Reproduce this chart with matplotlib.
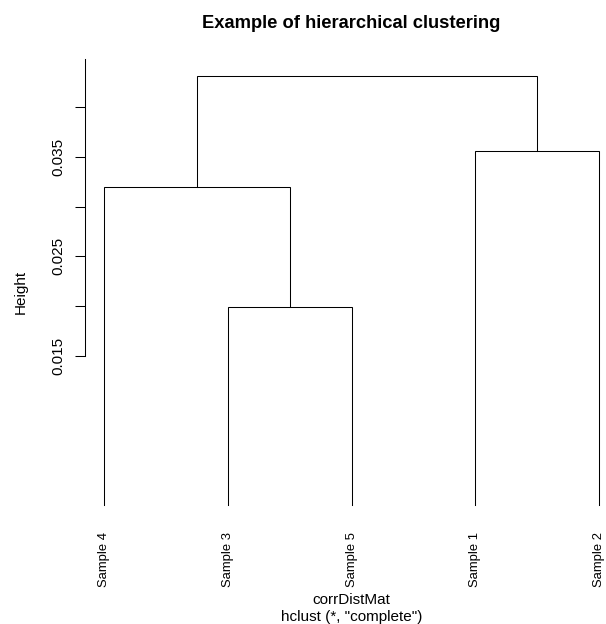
import matplotlib
matplotlib.use("Agg")
import matplotlib.pyplot as plt
import matplotlib.transforms as mtransforms

plt.rcParams["font.family"] = ["Liberation Sans", "DejaVu Sans"]

# leaves in the order they are drawn, left to right
LEAF_LABELS = ["Sample 4", "Sample 3", "Sample 5", "Sample 1", "Sample 2"]

# hclust style merge table: negative = leaf (1-based in LEAF_LABELS),
# positive = earlier merge step (1-based)
MERGE = [(-2, -3), (-1, 1), (-4, -5), (2, 3)]
HEIGHTS = [0.0199, 0.0320, 0.0356, 0.0431]

Y_TICKS = [0.015, 0.020, 0.025, 0.030, 0.035, 0.040]
Y_TICK_LABELS = ["0.015", "", "0.025", "", "0.035", ""]

W, H = 606, 624
DPI = 100
LW = 0.75


def node_pos(ref, xs):
    """x position and height of a leaf or a merged cluster"""
    if ref < 0:
        return -ref, 0.0
    return xs[ref - 1], HEIGHTS[ref - 1]


def draw_tree(ax):
    xs = []
    for (a, b), h in zip(MERGE, HEIGHTS):
        xa, ha = node_pos(a, xs)
        xb, hb = node_pos(b, xs)
        ax.plot([xa, xa, xb, xb], [ha, h, h, hb], color="black",
                lw=LW, solid_joinstyle="miter", clip_on=False)
        xs.append((xa + xb) / 2)


fig = plt.figure(figsize=(W / DPI, H / DPI), dpi=DPI)
left, right = 84.5 / W, 618.8 / W
top, bottom = 1 - 59 / H, 1 - 522.4 / H
ax = fig.add_axes([left, bottom, right - left, top - bottom])

draw_tree(ax)

top_h = max(HEIGHTS)
pad = 0.04 * top_h
ax.set_xlim(1 - 0.04 * 4, 5 + 0.04 * 4)
ax.set_ylim(-pad, top_h + pad)

for side in ["top", "right", "bottom"]:
    ax.spines[side].set_visible(False)
ax.spines["left"].set_bounds(Y_TICKS[0], top_h + pad)
ax.spines["left"].set_linewidth(LW)
ax.set_xticks([])
ax.set_yticks(Y_TICKS)
ax.tick_params(axis="y", length=7.2, width=LW, labelleft=False)

# vertical tick labels, the way R draws them
trans = mtransforms.blended_transform_factory(fig.transFigure, ax.transData)
for t, lab in zip(Y_TICKS, Y_TICK_LABELS):
    if lab:
        ax.text(58 / W, t, lab, transform=trans, rotation=90,
                ha="center", va="center", fontsize=11)

# leaf labels hanging below the leaves
for i, lab in enumerate(LEAF_LABELS):
    ax.annotate(lab, xy=(i + 1, 0), xytext=(0, -19.4),
                textcoords="offset points", rotation=90,
                ha="center", va="top", fontsize=9.4,
                annotation_clip=False)

cx = (84.5 + 618.8) / 2 / W
fig.text(cx, 1 - 23 / H, "Example of hierarchical clustering",
         ha="center", va="center", fontsize=13.2, fontweight="bold")
fig.text(cx, 1 - 600 / H, "corrDistMat", ha="center", va="center",
         fontsize=11)
fig.text(cx, 1 - 617 / H, 'hclust (*, "complete")', ha="center",
         va="center", fontsize=11)
fig.text(21 / W, 1 - 292 / H, "Height", rotation=90, ha="center",
         va="center", fontsize=11)

fig.savefig("out.png", dpi=DPI)
